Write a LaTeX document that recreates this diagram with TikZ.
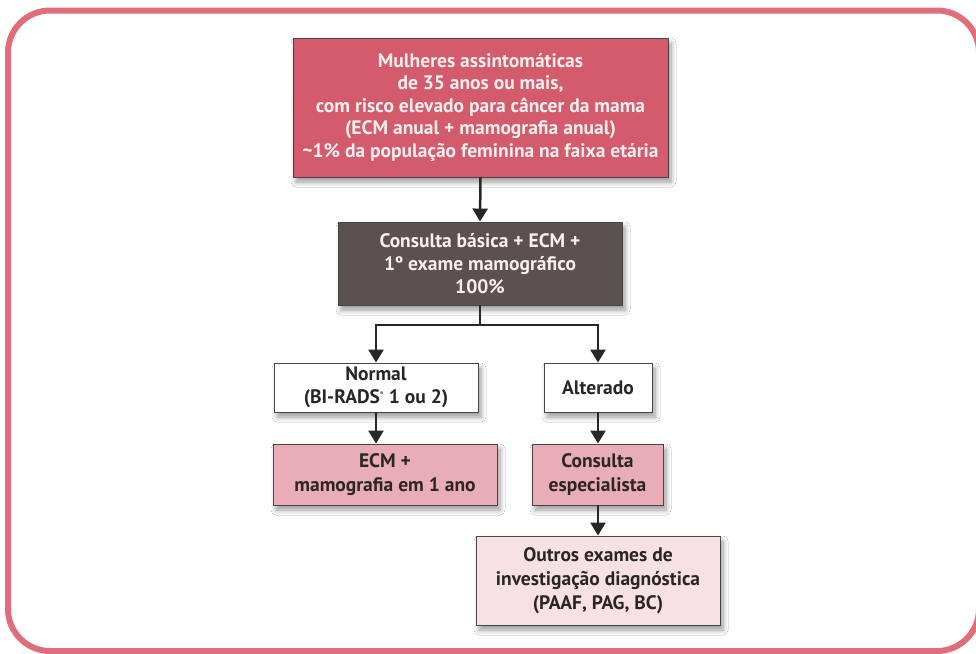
\documentclass[tikz,border=0pt]{standalone}
\usepackage{fontspec}
\setmainfont{PT Sans}
\usetikzlibrary{arrows.meta,shadows.blur}
\definecolor{framepink}{HTML}{E26D7A}
\definecolor{topfill}{HTML}{D35B6B}
\definecolor{darkfill}{HTML}{595251}
\definecolor{midpink}{HTML}{E8ADB6}
\definecolor{palepink}{HTML}{F8E1E5}
\definecolor{boxline}{HTML}{4A4545}
\definecolor{inktext}{HTML}{2B2626}
\definecolor{lighttext}{HTML}{FBEFF0}
\tikzset{
  flowbox/.style={draw=boxline, line width=0.9pt, align=center, inner sep=0pt,
    font=\fontsize{19.5}{22.5}\selectfont\bfseries, text=inktext,
    blur shadow={shadow xshift=3pt, shadow yshift=-5pt, shadow blur steps=8,
      shadow blur radius=5pt, shadow opacity=40}},
  flowarrow/.style={line width=2.5pt, draw=inktext,
    -{Triangle[length=13pt,width=15pt]}},
  flowline/.style={line width=2.5pt, draw=inktext},
}
\begin{document}
\begin{tikzpicture}[x=1pt,y=-1pt]
\useasboundingbox (0,0) rectangle (976,653);
\clip (0,0) rectangle (976,653);
\fill[white] (0,0) rectangle (976,653);
% outer rounded frame
\draw[framepink, line width=6pt, rounded corners=42pt] (8,10.5) rectangle (979,651);

% boxes
\node[flowbox, fill=topfill, text=lighttext, minimum width=375pt, minimum height=139pt]
  (risk) at (480.5,107.5)
  {Mulheres assintomáticas\\ de 35 anos ou mais,\\ com risco elevado para câncer da mama\\
   (ECM anual + mamografia anual)\\ \textasciitilde1\% da população feminina na faixa etária};
\node[flowbox, fill=darkfill, text=lighttext, minimum width=284pt, minimum height=83pt,
  font=\fontsize{19.5}{23}\selectfont\bfseries]
  (basic) at (480,263.5)
  {Consulta básica + ECM +\\ 1º exame mamográfico\\ 100\%};
\node[flowbox, fill=white, minimum width=204pt, minimum height=49pt]
  (normal) at (376,387.5)
  {Normal\\ (BI-RADS\textsuperscript{\tiny\textregistered} 1 ou 2)};
\node[flowbox, fill=white, minimum width=108pt, minimum height=49pt]
  (altered) at (598,387.5) {Alterado};
\node[flowbox, fill=midpink, minimum width=224pt, minimum height=61pt,
  font=\fontsize{19.5}{24}\selectfont\bfseries]
  (yearly) at (385,474.5) {ECM +\\ mamografia em 1 ano};
\node[flowbox, fill=midpink, minimum width=131pt, minimum height=61pt,
  font=\fontsize{19.5}{24}\selectfont\bfseries]
  (specialist) at (597.5,474.5) {Consulta\\ especialista};
\node[flowbox, fill=palepink, minimum width=244pt, minimum height=89pt,
  font=\fontsize{19.5}{24}\selectfont\bfseries]
  (further) at (598,580.5) {Outros exames de\\ investigação diagnóstica\\ (PAAF, PAG, BC)};

% connectors
\coordinate (split) at (480,325);
\draw[flowarrow] (risk.south) -- (basic.north);
\draw[flowline] (basic.south) -- (split);
\draw[flowarrow] (split) -| (normal.north);
\draw[flowarrow] (split) -| (altered.north);
\draw[flowarrow] (normal.south) -- (normal.south |- yearly.north);
\draw[flowarrow] (altered.south) -- (altered.south |- specialist.north);
\draw[flowarrow] (specialist.south -| further.north) -- (further.north);
\end{tikzpicture}
\end{document}
